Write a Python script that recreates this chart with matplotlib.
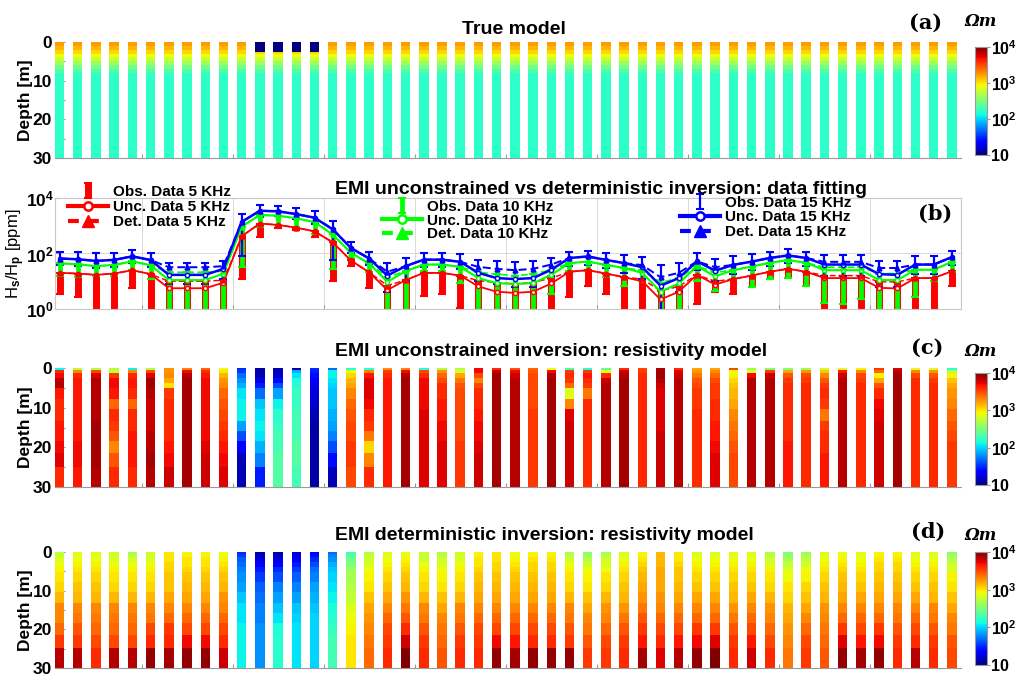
import numpy as np
import matplotlib
matplotlib.use('Agg')
import matplotlib.pyplot as plt
from matplotlib.colors import LogNorm
from matplotlib.cm import ScalarMappable
from matplotlib.lines import Line2D

plt.rcParams['font.family'] = 'Liberation Sans'
plt.rcParams['font.weight'] = 'bold'
plt.rcParams['mathtext.fontset'] = 'custom'
plt.rcParams['mathtext.rm'] = 'Liberation Sans:bold'
plt.rcParams['mathtext.bf'] = 'Liberation Sans:bold'
plt.rcParams['mathtext.it'] = 'Liberation Sans:bold:italic'
plt.rcParams['mathtext.default'] = 'bf'

# ---- stations along the profile (50 soundings)
stations = np.arange(1, 100, 2)

# ---- true model: 1D layering repeated at every station + shallow conductor
true_edges = [0, 1, 2, 3, 4, 5, 6, 7, 8, 9, 30]
true_rho = [1700, 1400, 1100, 820, 600, 420, 290, 215, 172, 165]
block_cols = [12, 13, 14, 15]
block_edges = [0, 2.6]
block_rho = 10

# ---- EMI data (ppm), 5 / 10 / 15 kHz
b_unc = [66, 62, 54, 59, 79, 58, 17, 17, 17, 28, 1380, 3470, 3310, 2630, 1950, 740, 158, 66, 16, 35,
         60, 60, 50, 20, 13, 12, 13, 26, 69, 78, 59, 45, 32, 6.9, 13, 52, 24, 39, 51, 69,
         85, 69, 40, 40, 40, 18, 17, 40, 40, 74]
b_det = [66, 62, 54, 59, 79, 58, 32, 32, 32, 35, 1380, 3470, 3310, 2630, 1950, 760, 158, 66, 22, 35,
         60, 60, 50, 33, 28, 25, 28, 40, 69, 78, 59, 45, 38, 14, 20, 52, 32, 39, 51, 69,
         85, 69, 50, 50, 50, 30, 30, 40, 40, 74]
b_hi = [115, 110, 100, 105, 135, 105, 45, 45, 45, 55, 2600, 5600, 5000, 4200, 3400, 1500, 250, 110, 45, 70,
        100, 100, 95, 60, 55, 50, 55, 70, 110, 120, 100, 85, 75, 40, 45, 100, 65, 80, 95, 115,
        140, 115, 85, 85, 85, 55, 55, 80, 80, 125]
b_lo = [37, 35, 30, 33, 45, 33, 8, 8, 8, 12, 80, 2000, 2300, 1800, 1200, 56, 100, 40, 4, 10,
        32, 32, 28, 10, 8, 6, 6, 15, 35, 40, 30, 20, 12, 0.5, 4, 25, 10, 18, 25, 35,
        45, 35, 15, 15, 15, 6, 6, 18, 18, 38]

g_unc = [44, 41, 35, 39, 52, 38, 11, 11, 11, 19, 930, 2450, 2290, 1860, 1350, 480, 105, 44, 9.5, 23,
         40, 40, 33, 13, 8.5, 8, 8.5, 17, 45, 51, 39, 30, 20, 4.2, 8.3, 35, 15, 25, 34, 46,
         58, 46, 25, 25, 25, 11, 11, 26, 26, 50]
g_det = [44, 41, 35, 39, 52, 38, 21, 21, 21, 23, 930, 2450, 2290, 1860, 1350, 500, 105, 44, 14, 23,
         40, 40, 33, 21, 18, 16, 18, 26, 45, 51, 39, 30, 25, 9, 13, 35, 21, 25, 34, 46,
         58, 46, 32, 32, 32, 19, 19, 26, 26, 50]
g_lo = [15.5, 14, 16, 15, 25, 12.5, 0.5, 0.5, 0.5, 0.5, 33, 930, 1100, 900, 500, 28, 70, 21, 0.5, 0.5,
        24, 24, 9, 0.5, 0.5, 0.5, 0.5, 3.4, 24, 24, 14.5, 7, 10, 0.5, 0.5, 10, 4.5, 12, 6, 12,
        13, 7, 1.7, 1.5, 2.3, 0.5, 0.5, 2.6, 10, 22]

r_unc = [20, 19, 17, 19, 25, 18, 5.6, 5.6, 5.6, 8.9, 420, 1200, 1070, 850, 630, 250, 56, 21, 4.8, 11,
         20, 20, 16, 6.5, 4.2, 3.8, 4.2, 8.3, 22, 25, 19, 14, 10, 2.2, 4.2, 17, 7.6, 12, 16, 22,
         28, 22, 13, 13, 13, 5.8, 5.5, 13, 13, 23]
r_det = [20, 19, 17, 19, 25, 18, 10, 10, 10, 11, 420, 1200, 1070, 850, 630, 260, 56, 21, 7, 11,
         20, 20, 16, 10.5, 9, 8, 9, 13, 22, 25, 19, 14, 12, 4.5, 6.5, 17, 10, 12, 16, 22,
         28, 22, 16, 16, 16, 9.5, 9.5, 13, 13, 23]
r_lo = [3.5, 2.8, 0.5, 0.5, 5.5, 0.5, 0.5, 0.5, 0.5, 0.5, 12, 390, 800, 700, 390, 10.5, 36, 5.9, 0.5, 0.5,
        3, 3.5, 1.1, 0.5, 0.5, 0.5, 0.5, 0.5, 2.6, 7, 3.4, 0.5, 0.5, 0.5, 0.5, 1.5, 4, 3.6, 6, 12,
        13, 7, 0.5, 0.5, 0.5, 0.5, 0.5, 0.5, 0.5, 7]

# ---- inverted models, log10(rho) per layer, one row per station
inv_edges = [0, 0.5, 1.3, 2.6, 3.9, 5.1, 7.7, 10.3, 13.3, 15.9, 18.4, 21.4, 24.9, 30]

unc_model = [
    [2.1, 3.6, 3.7, 3.85, 3.85, 3.65, 3.6, 3.6, 3.65, 3.65, 3.7, 3.75, 3.6],
    [2.7, 3.3, 3.6, 3.65, 3.65, 3.65, 3.65, 3.65, 3.65, 3.65, 3.7, 3.7, 3.65],
    [2.7, 3.5, 3.75, 3.85, 3.85, 3.85, 3.85, 3.85, 3.9, 3.9, 3.9, 3.9, 3.85],
    [2.7, 2.75, 3.55, 3.7, 3.7, 3.65, 3.4, 3.6, 3.55, 3.45, 3.3, 3.45, 3.6],
    [2.1, 3.3, 3.6, 3.65, 3.65, 3.6, 3.4, 3.6, 3.6, 3.65, 3.65, 3.65, 3.6],
    [2.7, 3.5, 3.75, 3.9, 3.9, 3.85, 3.8, 3.8, 3.8, 3.85, 3.85, 3.9, 3.85],
    [3.25, 3.25, 3.3, 3.2, 3.0, 3.55, 3.6, 3.6, 3.6, 3.6, 3.65, 3.7, 3.8],
    [3.3, 3.7, 3.85, 3.9, 3.9, 3.9, 3.9, 3.9, 3.9, 3.9, 3.9, 3.9, 3.9],
    [3.4, 3.6, 3.65, 3.7, 3.7, 3.7, 3.7, 3.7, 3.7, 3.7, 3.75, 3.8, 3.8],
    [2.9, 3.0, 3.15, 3.25, 3.3, 3.4, 3.45, 3.5, 3.55, 3.6, 3.65, 3.7, 3.75],
    [1.5, 1.55, 1.7, 1.8, 1.9, 2.05, 2.1, 2.1, 1.85, 1.6, 1.35, 1.15, 1.15],
    [1.1, 1.1, 1.15, 1.3, 1.45, 1.7, 1.95, 2.05, 2.1, 2.05, 1.9, 1.75, 1.45],
    [1.15, 1.15, 1.2, 1.4, 1.6, 1.85, 2.1, 2.2, 2.25, 2.3, 2.3, 2.35, 2.35],
    [1.15, 1.9, 2.05, 2.15, 2.2, 2.25, 2.25, 2.3, 2.3, 2.3, 2.35, 2.35, 2.3],
    [1.5, 1.45, 1.4, 1.35, 1.3, 1.25, 1.2, 1.15, 1.1, 1.1, 1.1, 1.1, 1.1],
    [1.7, 2.1, 2.1, 2.05, 2.0, 1.95, 1.95, 1.9, 1.85, 1.75, 1.6, 1.4, 1.15],
    [2.2, 2.9, 3.05, 3.15, 3.2, 3.3, 3.4, 3.45, 3.5, 3.5, 3.55, 3.55, 3.5],
    [2.2, 3.3, 3.65, 3.75, 3.75, 3.75, 3.7, 3.6, 3.55, 3.35, 3.05, 3.3, 3.6],
    [3.25, 3.55, 3.6, 3.65, 3.65, 3.65, 3.65, 3.65, 3.65, 3.65, 3.65, 3.65, 3.65],
    [3.3, 3.7, 3.85, 3.9, 3.9, 3.9, 3.9, 3.9, 3.9, 3.9, 3.9, 3.9, 3.9],
    [2.2, 3.5, 3.6, 3.7, 3.7, 3.7, 3.7, 3.75, 3.75, 3.75, 3.75, 3.75, 3.75],
    [2.7, 3.25, 3.4, 3.5, 3.6, 3.6, 3.65, 3.65, 3.7, 3.7, 3.75, 3.75, 3.75],
    [2.7, 2.85, 3.2, 3.35, 3.45, 3.5, 3.5, 3.5, 3.5, 3.5, 3.55, 3.55, 3.55],
    [3.7, 3.7, 3.5, 3.3, 3.5, 3.6, 3.6, 3.65, 3.7, 3.7, 3.75, 3.8, 3.8],
    [3.6, 3.8, 3.9, 3.9, 3.9, 3.9, 3.9, 3.9, 3.9, 3.9, 3.9, 3.9, 3.9],
    [3.45, 3.7, 3.8, 3.85, 3.85, 3.85, 3.85, 3.85, 3.85, 3.85, 3.85, 3.85, 3.85],
    [3.4, 3.45, 3.5, 3.5, 3.5, 3.5, 3.5, 3.55, 3.55, 3.55, 3.55, 3.55, 3.55],
    [2.9, 3.7, 3.85, 3.9, 3.9, 3.9, 3.9, 3.9, 3.9, 3.9, 3.9, 3.9, 3.9],
    [2.3, 3.55, 3.6, 3.55, 3.4, 2.85, 3.3, 3.75, 3.8, 3.8, 3.8, 3.8, 3.8],
    [2.2, 3.55, 3.65, 3.6, 3.55, 3.35, 3.6, 3.6, 3.6, 3.6, 3.6, 3.6, 3.6],
    [2.4, 2.9, 3.6, 3.8, 3.85, 3.85, 3.85, 3.85, 3.85, 3.85, 3.85, 3.85, 3.85],
    [3.6, 3.8, 3.85, 3.9, 3.9, 3.9, 3.9, 3.9, 3.9, 3.9, 3.9, 3.9, 3.9],
    [3.5, 3.55, 3.6, 3.6, 3.6, 3.6, 3.6, 3.6, 3.6, 3.6, 3.6, 3.6, 3.6],
    [3.85, 3.9, 3.9, 3.85, 3.8, 3.75, 3.75, 3.75, 3.75, 3.8, 3.8, 3.8, 3.8],
    [3.6, 3.75, 3.8, 3.85, 3.85, 3.85, 3.85, 3.85, 3.85, 3.85, 3.85, 3.85, 3.85],
    [3.2, 3.25, 3.35, 3.45, 3.5, 3.55, 3.55, 3.6, 3.6, 3.6, 3.6, 3.6, 3.6],
    [3.2, 3.3, 3.4, 3.5, 3.55, 3.55, 3.6, 3.6, 3.65, 3.65, 3.7, 3.75, 3.75],
    [3.5, 2.9, 2.95, 3.05, 3.1, 3.15, 3.2, 3.3, 3.35, 3.4, 3.45, 3.5, 3.5],
    [2.6, 2.9, 3.7, 3.85, 3.85, 3.85, 3.85, 3.85, 3.85, 3.85, 3.85, 3.85, 3.85],
    [2.5, 3.55, 3.8, 3.85, 3.85, 3.85, 3.85, 3.85, 3.85, 3.85, 3.85, 3.85, 3.85],
    [2.5, 3.2, 3.45, 3.55, 3.6, 3.6, 3.6, 3.6, 3.6, 3.6, 3.65, 3.65, 3.65],
    [2.6, 3.25, 3.5, 3.55, 3.6, 3.6, 3.6, 3.6, 3.6, 3.6, 3.6, 3.6, 3.6],
    [2.8, 3.1, 3.3, 3.45, 3.55, 3.6, 3.55, 3.35, 3.55, 3.6, 3.6, 3.65, 3.65],
    [2.85, 3.65, 3.8, 3.85, 3.85, 3.85, 3.85, 3.85, 3.85, 3.85, 3.85, 3.85, 3.85],
    [2.95, 3.3, 3.5, 3.55, 3.6, 3.6, 3.6, 3.6, 3.6, 3.6, 3.6, 3.6, 3.6],
    [3.55, 3.4, 2.95, 3.2, 3.45, 3.6, 3.7, 3.75, 3.8, 3.8, 3.8, 3.8, 3.8],
    [3.75, 3.85, 3.9, 3.9, 3.9, 3.9, 3.9, 3.9, 3.9, 3.9, 3.9, 3.9, 3.9],
    [2.85, 3.3, 3.5, 3.6, 3.6, 3.6, 3.6, 3.6, 3.6, 3.6, 3.6, 3.6, 3.6],
    [2.85, 3.25, 3.45, 3.55, 3.6, 3.6, 3.6, 3.6, 3.6, 3.6, 3.6, 3.6, 3.6],
    [2.2, 2.7, 2.95, 3.1, 3.2, 3.25, 3.3, 3.4, 3.45, 3.5, 3.55, 3.55, 3.55],
]

det_model = [
    [2.75, 2.75, 2.85, 2.9, 2.95, 3.0, 3.05, 3.15, 3.3, 3.3, 3.4, 3.55, 3.85],
    [2.85, 2.85, 2.9, 2.95, 3.0, 3.05, 3.1, 3.15, 3.3, 3.35, 3.45, 3.55, 3.85],
    [2.85, 2.85, 2.9, 2.95, 3.0, 3.05, 3.1, 3.15, 3.3, 3.35, 3.4, 3.5, 3.6],
    [2.8, 2.8, 2.85, 2.9, 2.95, 3.0, 3.05, 3.15, 3.3, 3.35, 3.4, 3.5, 3.85],
    [2.65, 2.7, 2.8, 2.9, 2.95, 3.0, 3.05, 3.15, 3.3, 3.35, 3.4, 3.5, 3.85],
    [2.8, 2.8, 2.85, 2.9, 2.95, 3.0, 3.05, 3.15, 3.3, 3.35, 3.5, 3.6, 3.95],
    [3.0, 3.0, 3.0, 3.05, 3.05, 3.1, 3.1, 3.2, 3.3, 3.4, 3.55, 3.6, 3.9],
    [2.95, 2.95, 3.0, 3.0, 3.05, 3.1, 3.15, 3.2, 3.3, 3.4, 3.5, 3.7, 3.95],
    [2.95, 2.95, 3.0, 3.0, 3.05, 3.1, 3.15, 3.2, 3.3, 3.4, 3.5, 3.7, 3.95],
    [2.9, 2.9, 2.95, 3.0, 3.05, 3.1, 3.15, 3.25, 3.3, 3.4, 3.5, 3.6, 3.8],
    [1.5, 1.55, 1.65, 1.7, 1.75, 1.8, 1.85, 1.95, 2.05, 2.05, 2.1, 2.1, 2.1],
    [1.1, 1.15, 1.25, 1.35, 1.45, 1.55, 1.65, 1.7, 1.75, 1.75, 1.8, 1.8, 1.8],
    [1.1, 1.15, 1.25, 1.35, 1.5, 1.6, 1.75, 1.85, 1.95, 2.05, 2.15, 2.2, 2.2],
    [1.2, 1.25, 1.35, 1.45, 1.55, 1.65, 1.75, 1.85, 1.95, 2.0, 2.05, 2.05, 2.05],
    [1.35, 1.4, 1.5, 1.6, 1.7, 1.75, 1.85, 1.9, 1.95, 2.0, 2.0, 2.0, 2.0],
    [1.7, 1.75, 1.8, 1.9, 1.95, 2.0, 2.05, 2.1, 2.15, 2.2, 2.25, 2.3, 2.3],
    [2.3, 2.35, 2.45, 2.5, 2.6, 2.65, 2.7, 2.75, 2.85, 2.9, 2.95, 3.0, 3.0],
    [2.7, 2.75, 2.8, 2.85, 2.9, 2.95, 3.0, 3.1, 3.2, 3.25, 3.3, 3.35, 3.4],
    [2.85, 2.85, 2.9, 2.95, 3.0, 3.05, 3.1, 3.2, 3.3, 3.4, 3.5, 3.55, 3.6],
    [2.9, 2.9, 2.95, 3.0, 3.05, 3.1, 3.15, 3.25, 3.35, 3.45, 3.6, 3.8, 4.0],
    [2.75, 2.75, 2.8, 2.9, 2.95, 3.0, 3.05, 3.15, 3.3, 3.35, 3.45, 3.55, 3.6],
    [2.7, 2.7, 2.8, 2.85, 2.9, 2.95, 3.0, 3.1, 3.2, 3.3, 3.35, 3.4, 3.45],
    [2.8, 2.8, 2.85, 2.9, 2.95, 3.0, 3.05, 3.15, 3.3, 3.35, 3.45, 3.55, 3.6],
    [2.95, 2.95, 3.0, 3.0, 3.05, 3.1, 3.15, 3.2, 3.3, 3.4, 3.5, 3.55, 3.6],
    [3.0, 3.0, 3.0, 3.05, 3.05, 3.1, 3.15, 3.2, 3.3, 3.4, 3.5, 3.7, 3.95],
    [2.9, 2.9, 2.95, 3.0, 3.05, 3.1, 3.15, 3.2, 3.3, 3.4, 3.5, 3.65, 3.9],
    [2.95, 2.95, 3.0, 3.05, 3.05, 3.1, 3.15, 3.2, 3.3, 3.4, 3.5, 3.6, 3.95],
    [2.95, 2.95, 3.0, 3.05, 3.05, 3.1, 3.15, 3.2, 3.3, 3.4, 3.5, 3.6, 3.95],
    [2.7, 2.7, 2.8, 2.9, 2.95, 3.0, 3.05, 3.15, 3.3, 3.35, 3.45, 3.55, 3.95],
    [2.55, 2.6, 2.7, 2.8, 2.9, 2.95, 3.0, 3.1, 3.2, 3.3, 3.35, 3.45, 3.55],
    [2.65, 2.7, 2.8, 2.85, 2.9, 3.0, 3.05, 3.15, 3.25, 3.3, 3.4, 3.5, 3.55],
    [2.85, 2.85, 2.9, 2.95, 3.0, 3.05, 3.1, 3.15, 3.25, 3.35, 3.45, 3.55, 3.6],
    [2.95, 2.95, 3.0, 3.05, 3.1, 3.15, 3.2, 3.25, 3.35, 3.45, 3.55, 3.65, 3.9],
    [3.15, 3.15, 3.15, 3.15, 3.2, 3.2, 3.2, 3.25, 3.3, 3.4, 3.5, 3.6, 3.75],
    [3.0, 3.0, 3.0, 3.05, 3.1, 3.1, 3.15, 3.2, 3.3, 3.4, 3.5, 3.65, 3.85],
    [2.85, 2.85, 2.9, 2.95, 3.0, 3.05, 3.1, 3.2, 3.3, 3.4, 3.55, 3.7, 3.95],
    [2.85, 2.85, 2.9, 2.95, 3.0, 3.05, 3.1, 3.2, 3.3, 3.4, 3.55, 3.75, 4.0],
    [2.85, 2.85, 2.9, 2.95, 3.0, 3.05, 3.1, 3.15, 3.25, 3.35, 3.45, 3.55, 3.6],
    [2.85, 2.85, 2.9, 2.95, 3.0, 3.05, 3.1, 3.2, 3.3, 3.4, 3.5, 3.65, 3.8],
    [2.7, 2.7, 2.8, 2.85, 2.95, 3.0, 3.05, 3.15, 3.25, 3.3, 3.4, 3.5, 3.6],
    [2.5, 2.55, 2.65, 2.75, 2.85, 2.9, 3.0, 3.05, 3.15, 3.2, 3.25, 3.3, 3.35],
    [2.6, 2.65, 2.75, 2.8, 2.9, 2.95, 3.05, 3.1, 3.2, 3.3, 3.4, 3.5, 3.55],
    [2.85, 2.85, 2.9, 2.95, 3.0, 3.05, 3.1, 3.15, 3.25, 3.3, 3.35, 3.4, 3.45],
    [2.9, 2.9, 2.95, 3.0, 3.05, 3.1, 3.15, 3.2, 3.3, 3.4, 3.55, 3.75, 3.95],
    [2.85, 2.85, 2.9, 2.95, 3.0, 3.05, 3.1, 3.2, 3.3, 3.4, 3.5, 3.65, 3.9],
    [2.95, 2.95, 3.0, 3.05, 3.05, 3.1, 3.15, 3.2, 3.3, 3.4, 3.55, 3.7, 3.95],
    [2.95, 2.95, 3.0, 3.05, 3.05, 3.1, 3.15, 3.2, 3.3, 3.35, 3.45, 3.55, 3.6],
    [2.85, 2.85, 2.9, 2.95, 3.0, 3.05, 3.1, 3.2, 3.3, 3.4, 3.5, 3.6, 3.85],
    [2.85, 2.85, 2.9, 2.95, 3.0, 3.05, 3.1, 3.15, 3.3, 3.35, 3.45, 3.55, 3.6],
    [2.55, 2.6, 2.7, 2.8, 2.85, 2.95, 3.0, 3.1, 3.2, 3.3, 3.35, 3.45, 3.5],
]

W, H = 1032, 677
fig = plt.figure(figsize=(W / 100, H / 100), dpi=100)
cmap = plt.get_cmap('jet')
norm = LogNorm(vmin=10, vmax=1e4)
grey = '#9a9a9a'


def add_ax(left, top, right, bottom):
    # rectangle given in pixels from the top-left corner
    return fig.add_axes([left / W, 1 - bottom / H, (right - left) / W, (bottom - top) / H])


def depth_axes(top, bottom):
    ax = add_ax(55, top, 961, bottom)
    ax.set_xlim(0.5, 100)
    ax.set_ylim(30, 0)
    for s in ['left', 'right', 'top']:
        ax.spines[s].set_visible(False)
    ax.spines['bottom'].set_color(grey)
    ax.set_xticks(np.arange(10, 100, 10))
    ax.set_xticklabels([])
    ax.set_yticks([0, 10, 20, 30])
    ax.set_yticks([5, 15, 25], minor=True)
    ax.tick_params(which='both', direction='in', color=grey, length=7, width=0.8)
    ax.tick_params(axis='x', length=3)
    ax.tick_params(axis='y', labelsize=12.5, pad=2)
    ax.set_ylabel('Depth [m]', fontsize=12.5, fontweight='bold')
    ax.yaxis.set_label_coords(-0.024, 0.5)
    ax.set_axisbelow(True)
    return ax


def draw_columns(ax, edges, log_rho):
    for x, prof in zip(stations, log_rho):
        c = 10 ** np.array(prof, dtype=float)[:, None]
        ax.pcolormesh([x - 0.52, x + 0.52], edges, c, cmap=cmap, norm=norm)


def colorbar(top, bottom):
    cax = add_ax(975, top, 987, bottom)
    cb = fig.colorbar(ScalarMappable(norm=norm, cmap=cmap), cax=cax)
    cb.set_ticks([10, 100, 1000, 10000])
    cb.set_ticklabels(['10', '10$^2$', '10$^3$', '10$^4$'])
    cb.minorticks_off()
    cax.tick_params(labelsize=11.5, length=2, color=grey, pad=1)
    cb.outline.set_edgecolor(grey)
    cb.outline.set_linewidth(0.8)


def ohm_label(y):
    fig.text(981 / W, 1 - y / H, 'Ωm', family='DejaVu Serif', style='italic',
             weight='bold', fontsize=12, ha='center', va='center')


def panel_tag(x, y, s):
    fig.text(x / W, 1 - y / H, s, family='DejaVu Serif', weight='bold',
             fontsize=15, ha='center', va='center')


# (a) true model
ax_a = depth_axes(42, 158)
draw_columns(ax_a, true_edges, [np.log10(true_rho)] * len(stations))
for k in block_cols:
    x = stations[k - 1]
    ax_a.pcolormesh([x - 0.52, x + 0.52], block_edges, [[block_rho]], cmap=cmap, norm=norm)
colorbar(47, 155)
ohm_label(22)
panel_tag(926, 23, '(a)')

# (b) data fitting
ax_b = add_ax(55, 198, 961, 309)
ax_b.set_yscale('log')
ax_b.set_ylim(1, 1e4)
ax_b.set_xlim(0.5, 100)
ax_b.set_xticks(np.arange(10, 100, 10))
ax_b.set_xticklabels([])
ax_b.set_yticks([1, 100, 1e4])
ax_b.set_yticklabels(['10$^0$', '10$^2$', '10$^4$'])
ax_b.yaxis.set_minor_locator(matplotlib.ticker.LogLocator(subs=np.arange(2, 10)))
ax_b.yaxis.set_minor_formatter(matplotlib.ticker.NullFormatter())
ax_b.tick_params(which='both', direction='in', color=grey, length=3, width=0.8)
ax_b.tick_params(axis='y', labelsize=12.5, pad=1)
ax_b.grid(True, which='major', color='#d9d9d9', lw=0.7)
ax_b.grid(True, which='minor', axis='y', color='#ececec', lw=0.5)
for s in ax_b.spines.values():
    s.set_color('#c8c8c8')
    s.set_linewidth(0.8)
ax_b.set_ylabel('H$_s$/H$_p$ [ppm]', fontsize=12)
ax_b.yaxis.set_label_coords(-0.031, 0.5)

freqs = [
    ('5', (1, 0, 0), r_unc, r_det, r_lo, None, 5.0, 1.3),
    ('10', (0, 1, 0), g_unc, g_det, g_lo, None, 3.4, 1.5),
    ('15', (0, 0, 1), b_unc, b_det, b_lo, b_hi, 1.6, 1.8),
]
legend_pos = [(68, 185, 0.08), (382, 200, -0.03), (680, 196, 0.03)]
legends = []
for (f, col, unc, det, lo, hi, elw, lw), (lx, ly, lsp) in zip(freqs, legend_pos):
    det = np.array(det, dtype=float)
    lower = det - np.array(lo, dtype=float)
    upper = np.zeros_like(det) if hi is None else np.array(hi, dtype=float) - det
    eb = ax_b.errorbar(stations, det, yerr=[lower, upper], fmt='none', ecolor=col,
                       elinewidth=elw, capsize=3, capthick=1.5, zorder=2)
    ax_b.plot(stations, unc, '-', color=col, lw=lw, marker='o', ms=3, mfc='white', mew=1, zorder=3)
    ax_b.plot(stations, det, '--', color=col, lw=lw * 0.8, marker='^', ms=3.5, zorder=3,
              dashes=(4, 2))
    h_unc = Line2D([], [], color=col, lw=3, marker='o', ms=6, mfc='white', mew=1.8)
    h_det = Line2D([], [], color=col, lw=3, ls=(0, (2.6, 2.2)), marker='^', ms=8)
    leg = ax_b.legend([eb, h_unc, h_det],
                      [f'Obs. Data {f} KHz', f'Unc. Data {f} KHz', f'Det. Data {f} KHz'],
                      loc='upper left', bbox_to_anchor=(lx / W, 1 - ly / H),
                      bbox_transform=fig.transFigure, frameon=False, fontsize=11,
                      borderpad=0, borderaxespad=0, handlelength=2.6, handletextpad=0.35,
                      labelspacing=lsp)
    legends.append(leg)
for leg in legends[:-1]:
    ax_b.add_artist(leg)
panel_tag(935, 214, '(b)')

# (c) unconstrained inversion
ax_c = depth_axes(368, 487)
draw_columns(ax_c, inv_edges, unc_model)
colorbar(373, 485)
ohm_label(352)
panel_tag(927, 348, '(c)')

# (d) deterministic inversion
ax_d = depth_axes(552, 668)
draw_columns(ax_d, inv_edges, det_model)
colorbar(552, 665)
ohm_label(535)
panel_tag(928, 532, '(d)')

titles = [('True model', 462, 29),
          ('EMI unconstrained vs deterministic inversion: data fitting', 335, 189),
          ('EMI unconstrained inversion: resistivity model', 335, 351),
          ('EMI deterministic inversion: resistivity model', 335, 535)]
for t, x, y in titles:
    fig.text(x / W, 1 - y / H, t, fontsize=14, fontweight='bold', ha='left', va='center')

fig.savefig('out.png', dpi=100)
